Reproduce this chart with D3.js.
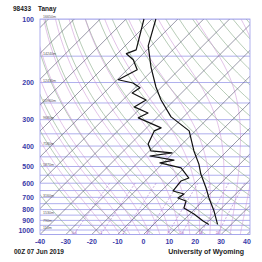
<!DOCTYPE html>
<html>
<head>
<meta charset="utf-8">
<script src="https://cdn.jsdelivr.net/npm/d3@7"></script>
<style>
  body { margin: 0; background: #fff; }
  svg { display: block; }
  text { font-family: "Liberation Sans", Arial, sans-serif; }
</style>
</head>
<body>
<div id="graph"></div>
<script>
// sounding 98433 Tanay, 00Z 07 Jun 2019
const tempPres = [940, 813, 705, 632, 543, 487, 422, 339, 291, 242, 210, 169, 134, 100]
const tempVals = [24.7, 18.2, 11.2, 6.2, -1.2, -5.8, -12.8, -22.4, -34.8, -45.2, -52.2, -61.8, -71.1, -78.5]

const dewPres = [942, 906, 840, 787, 729, 705, 675, 653, 586, 567, 543, 508, 481, 466, 446, 431, 422, 391, 339, 328, 294, 279, 261, 242, 224, 212, 201, 194, 174, 156, 146, 140, 100]
const dewVals = [21.4, 17.8, 11.6, 5.4, 3.5, -0.8, 0, -5.4, -6.2, -4.3, -7, -11.2, -21.3, -17, -27.8, -20.5, -29.4, -33.2, -35.9, -34.4, -47.1, -45.2, -52.9, -51, -59.1, -58, -62.6, -69.6, -66.1, -71.5, -76.5, -74.2, -83.1]

const pressureTicks = [100, 200, 300, 400, 500, 600, 700, 800, 900, 1000]
const tempTicks = [-40, -30, -20, -10, 0, 10, 20, 30, 40]
const heightLevels = [100, 150, 200, 250, 300, 400, 500, 700, 850, 925, 1000]
const heightLabels = ["16650m", "14240m", "12430m", "10960m", "9680m", "7580m", "5870m", "3160m", "1530m", "790m", "110m"]
const mixRatios = [0.4, 1, 2, 4, 7, 10, 16, 24]

const width = 262
const height = 262
const margin = { top: 19, bottom: 27.5, left: 40, right: 12 }

const svg = d3.select("#graph")
  .append("svg")
    .attr("width", width)
    .attr("height", height)

const y = d3.scaleLog().domain([1050, 100]).range([height - margin.bottom, margin.top])
const x = d3.scaleLinear().domain([-40, 40]).range([margin.left, 247])
const yb = y(1050)
// 45 degree skew
const sx = (t, p) => x(t) + (yb - y(p))

svg.append("clipPath").attr("id", "clip")
  .append("rect")
    .attr("x", margin.left).attr("y", margin.top)
    .attr("width", width - margin.right - margin.left)
    .attr("height", yb - margin.top)

const g = svg.append("g").attr("clip-path", "url(#clip)")
const line = d3.line().x(d => sx(d[1], d[0])).y(d => y(d[0]))

// isobars every 50 hPa
g.selectAll(".isobar")
  .data(d3.range(100, 1051, 50))
  .join("line")
    .attr("x1", margin.left).attr("x2", width - margin.right)
    .attr("y1", d => y(d)).attr("y2", d => y(d))
    .attr("stroke", "#9b9be8").attr("stroke-width", 0.8)

const presSteps = d3.range(100, 1051, 10)

// dry adiabats
g.selectAll(".dry")
  .data(d3.range(-30, 220, 10))
  .join("path")
    .attr("fill", "none").attr("stroke", "#86aa86").attr("stroke-width", 0.6)
    .attr("d", th => line(presSteps.map(p => [p, (th + 273.15) * Math.pow(p / 1000, 0.2857) - 273.15])))

// moist adiabats
function es(tc) { return 6.112 * Math.exp(17.67 * tc / (tc + 243.5)) }
function lapse(T, p) {
  const Rd = 287, cp = 1004, L = 2.5e6, eps = 0.622
  const e = es(T - 273.15)
  const rs = eps * e / (p - e)
  return (Rd * T + L * rs) / (p * (cp + L * L * rs * eps / (Rd * T * T)))
}
function moist(t0) {
  const out = []
  let tt = t0 + 273.15
  for (let p = 1000; p <= 1050; p += 5) {
    out.push([p, tt - 273.15])
    tt += lapse(tt, p) * 5
  }
  out.reverse()
  tt = t0 + 273.15
  for (let p = 1000; p >= 100; p -= 5) {
    if (p < 1000) out.push([p, tt - 273.15])
    tt -= lapse(tt, p) * 5
  }
  return out
}
g.selectAll(".moist")
  .data(d3.range(-20, 45, 4))
  .join("path")
    .attr("fill", "none").attr("stroke", "#cf9ad6").attr("stroke-width", 0.6)
    .attr("d", t0 => line(moist(t0)))

// mixing ratio lines
function tdFromW(w, p) {
  const e = (w / 1000) * p / (0.622 + w / 1000)
  const a = Math.log(e / 6.112)
  return 243.5 * a / (17.67 - a)
}
g.selectAll(".mix")
  .data(mixRatios)
  .join("path")
    .attr("fill", "none").attr("stroke", "#a870c8").attr("stroke-width", 0.6)
    .attr("stroke-dasharray", "2,1.5")
    .attr("d", w => line(d3.range(600, 1051, 10).map(p => [p, tdFromW(w, p)])))

// isotherms
g.selectAll(".isotherm")
  .data(d3.range(-130, 51, 10))
  .join("path")
    .attr("fill", "none").attr("stroke", "#55556e").attr("stroke-width", 0.6)
    .attr("d", t => line([[1050, t], [100, t]]))

// frame
svg.append("rect")
  .attr("x", margin.left).attr("y", margin.top)
  .attr("width", width - margin.right - margin.left)
  .attr("height", yb - margin.top)
  .attr("fill", "none").attr("stroke", "#9b9be8").attr("stroke-width", 0.8)

// height labels
svg.selectAll(".hgt")
  .data(heightLevels)
  .join("text")
    .attr("x", margin.left + 3).attr("y", (d, i) => y(d) - 0.8)
    .attr("font-size", 3.6).attr("fill", "#555")
    .text((d, i) => heightLabels[i])

// mixing ratio labels
svg.selectAll(".mixlab")
  .data(mixRatios)
  .join("text")
    .attr("x", w => sx(tdFromW(w, 1040), 1040)).attr("y", y(1040))
    .attr("text-anchor", "middle")
    .attr("font-size", 3.6).attr("fill", "#a050b8")
    .text(w => w)

// profiles
svg.append("path")
  .datum(d3.zip(dewPres, dewVals))
  .attr("fill", "none").attr("stroke", "#111").attr("stroke-width", 1.2)
  .attr("stroke-linejoin", "round")
  .attr("d", line)

svg.append("path")
  .datum(d3.zip(tempPres, tempVals))
  .attr("fill", "none").attr("stroke", "#111").attr("stroke-width", 1.2)
  .attr("stroke-linejoin", "round")
  .attr("d", line)

// axes labels
svg.selectAll(".plab")
  .data(pressureTicks)
  .join("text")
    .attr("x", 34).attr("y", d => y(d) + 2.5)
    .attr("text-anchor", "end")
    .attr("font-size", 7).attr("font-weight", "bold").attr("fill", "#3a3aa8")
    .text(d => d)

svg.selectAll(".tlab")
  .data(tempTicks)
  .join("text")
    .attr("x", d => x(d)).attr("y", 244)
    .attr("text-anchor", "middle")
    .attr("font-size", 7).attr("font-weight", "bold").attr("fill", "#3a3aa8")
    .text(d => d)

svg.append("text").attr("x", 13).attr("y", 11)
  .attr("font-size", 6.5).attr("font-weight", "bold").attr("fill", "#222")
  .text("98433")
svg.append("text").attr("x", 38).attr("y", 11)
  .attr("font-size", 6.5).attr("font-weight", "bold").attr("fill", "#222")
  .text("Tanay")
svg.append("text").attr("x", 14).attr("y", 254)
  .attr("font-size", 6.5).attr("font-weight", "bold").attr("fill", "#222")
  .text("00Z 07 Jun 2019")
svg.append("text").attr("x", 244).attr("y", 254)
  .attr("text-anchor", "end")
  .attr("font-size", 7).attr("font-weight", "bold").attr("fill", "#222")
  .text("University of Wyoming")
</script>
</body>
</html>
